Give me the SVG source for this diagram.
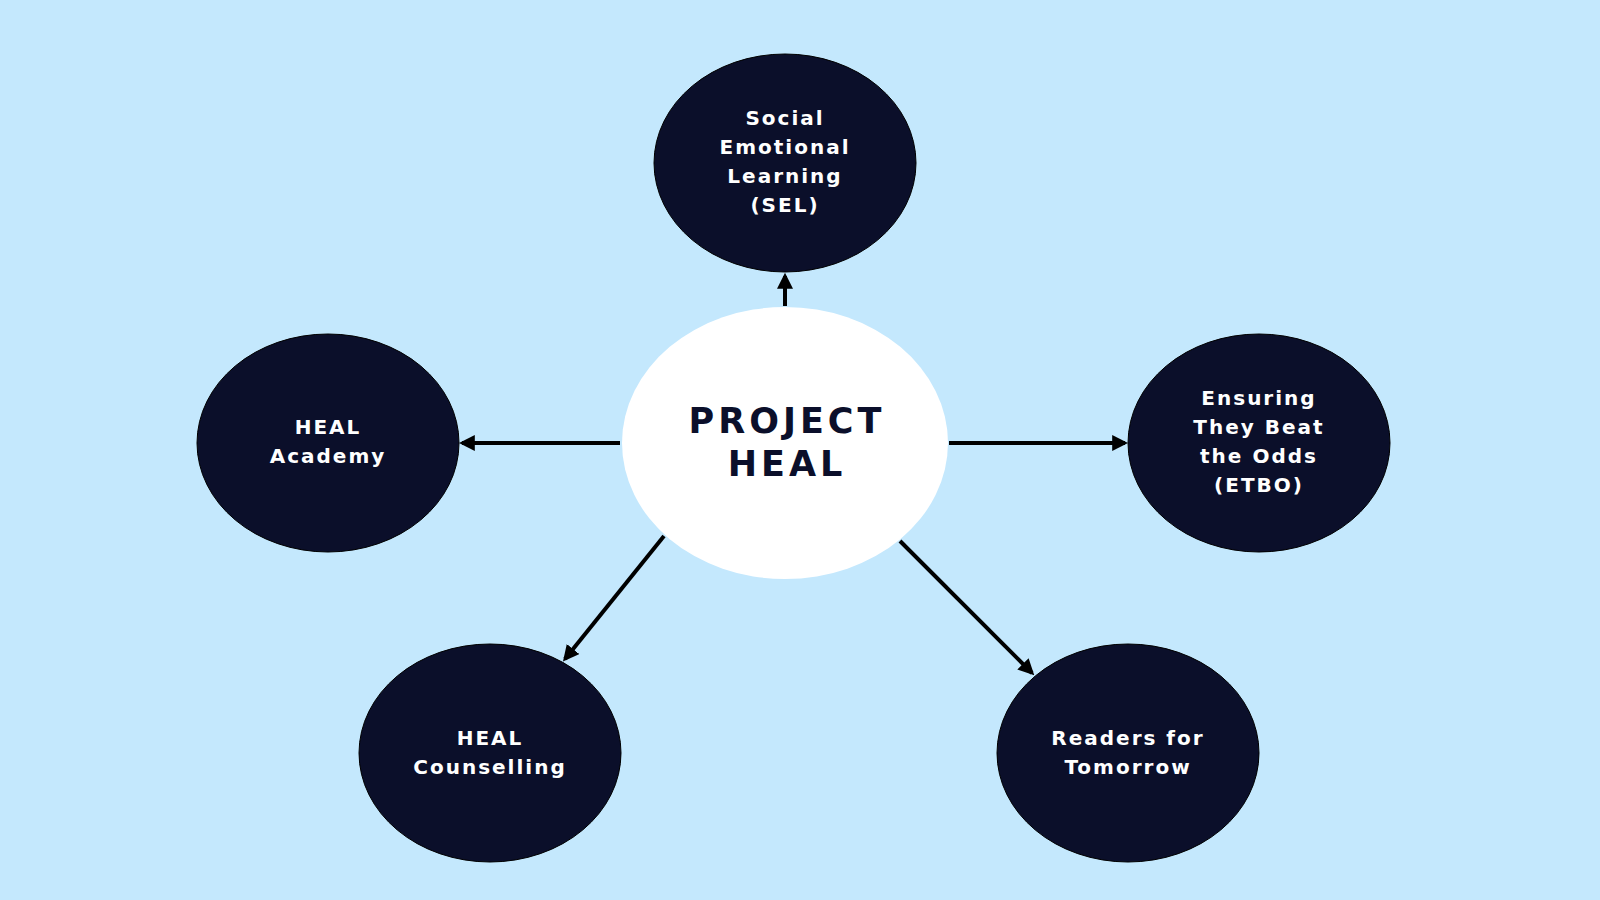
<svg xmlns="http://www.w3.org/2000/svg" width="1600" height="900" viewBox="0 0 1600 900">
<defs>
<style>
.n{fill:#0b0f2a;stroke:#000;stroke-width:1}
.t{fill:#fff;font-family:"DejaVu Sans",sans-serif;font-weight:bold;font-size:20px;letter-spacing:2px;text-anchor:middle}
.c{stroke:#000;stroke-width:4;fill:none;marker-end:url(#a)}
</style>
<marker id="a" viewBox="0 0 10 10" refX="8" refY="5" markerWidth="4" markerHeight="4" orient="auto" markerUnits="strokeWidth"><path d="M0,0 L10,5 L0,10 z" fill="#000"/></marker>
</defs>
<rect width="1600" height="900" fill="#c4e8fd"/>
<g id="connectors">
<line class="c" x1="785" y1="306" x2="785" y2="276"/>
<line class="c" x1="620" y1="443" x2="462" y2="443"/>
<line class="c" x1="949" y1="443" x2="1125" y2="443"/>
<line class="c" x1="664" y1="536" x2="565" y2="659"/>
<line class="c" x1="900" y1="541" x2="1032" y2="673"/>
</g>
<g id="center"><ellipse cx="785" cy="443" rx="163" ry="136" fill="#fff"/>
<text style="font-family:'DejaVu Sans',sans-serif;font-weight:bold;font-size:35px;letter-spacing:4px;text-anchor:middle" fill="#0b0f2a"><tspan x="787" y="433">PROJECT</tspan><tspan x="787" y="476">HEAL</tspan></text></g>
<g id="sel"><ellipse class="n" cx="785" cy="163" rx="131" ry="109"/><text class="t"><tspan x="785" y="125">Social</tspan><tspan x="785" y="154">Emotional</tspan><tspan x="785" y="183">Learning</tspan><tspan x="785" y="212">(SEL)</tspan></text></g>
<g id="academy"><ellipse class="n" cx="328" cy="443" rx="131" ry="109"/><text class="t"><tspan x="328" y="434">HEAL</tspan><tspan x="328" y="463">Academy</tspan></text></g>
<g id="etbo"><ellipse class="n" cx="1259" cy="443" rx="131" ry="109"/><text class="t"><tspan x="1259" y="405">Ensuring</tspan><tspan x="1259" y="434">They Beat</tspan><tspan x="1259" y="463">the Odds</tspan><tspan x="1259" y="492">(ETBO)</tspan></text></g>
<g id="counselling"><ellipse class="n" cx="490" cy="753" rx="131" ry="109"/><text class="t"><tspan x="490" y="745">HEAL</tspan><tspan x="490" y="774">Counselling</tspan></text></g>
<g id="readers"><ellipse class="n" cx="1128" cy="753" rx="131" ry="109"/><text class="t"><tspan x="1128" y="745">Readers for</tspan><tspan x="1128" y="774">Tomorrow</tspan></text></g>
</svg>
